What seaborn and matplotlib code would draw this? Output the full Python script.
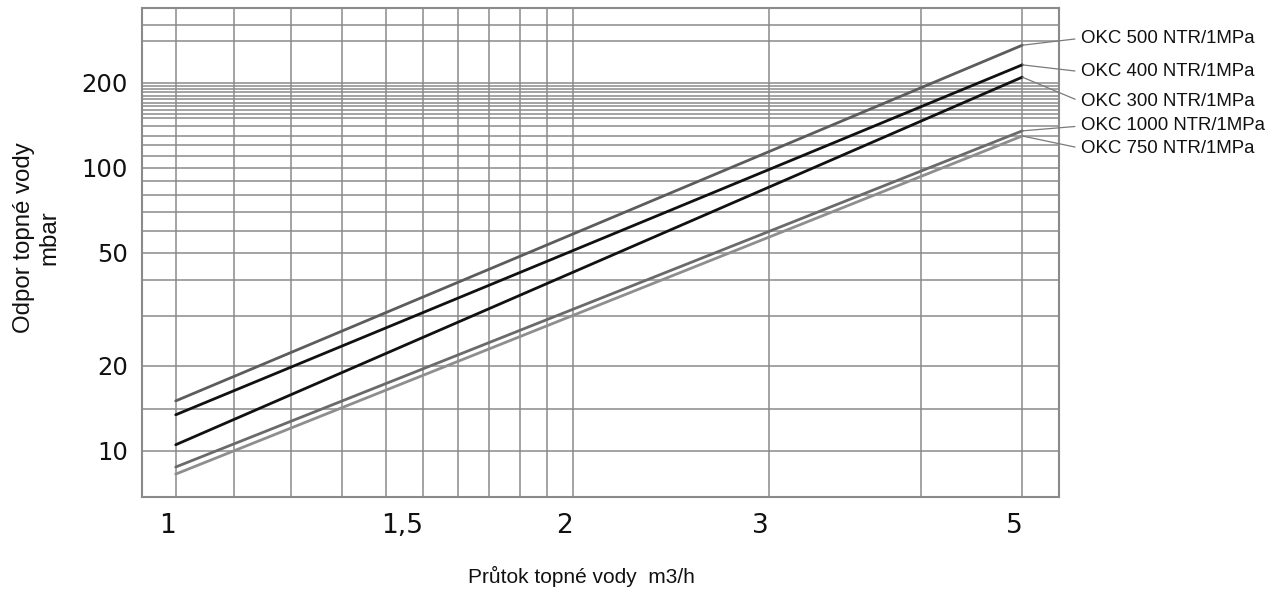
import numpy as np
import pandas as pd
import matplotlib.pyplot as plt
import seaborn as sns
from matplotlib.ticker import FixedLocator, NullFormatter


# pressure drop of heating water vs flow
prutok = [1, 5]
odpor_500 = [15.0, 271]
odpor_400 = [13.4, 231]
odpor_300 = [10.5, 209]
odpor_1000 = [8.76, 135]
odpor_750 = [8.27, 129.5]

typy = ["OKC 500 NTR/1MPa", "OKC 400 NTR/1MPa", "OKC 300 NTR/1MPa",
        "OKC 1000 NTR/1MPa", "OKC 750 NTR/1MPa"]

x_ticks = [1, 1.5, 2, 3, 5]
x_ticklabels = ["1", "1,5", "2", "3", "5"]
x_grid = [1, 1.1, 1.2, 1.3, 1.4, 1.5, 1.6, 1.7, 1.8, 1.9, 2, 3, 4, 5]

y_ticks = [10, 20, 50, 100, 200]
y_grid = [10, 14, 20, 30, 40, 50, 60, 70, 80, 90, 100, 110, 120, 130, 140, 150,
          155, 160, 165, 170, 175, 180, 185, 190, 195, 200, 280, 320]


def main():
    df = pd.DataFrame({
        "Typ": np.repeat(typy, 2),
        "Prutok": prutok * 5,
        "Odpor": odpor_500 + odpor_400 + odpor_300 + odpor_1000 + odpor_750,
    })

    sns.set_theme(style="white")
    plt.rcParams['font.family'] = ['Liberation Sans', 'DejaVu Sans']

    fig = plt.figure(figsize=(12.78, 5.96), dpi=100)
    ax = fig.add_axes([0.1109, 0.1666, 0.7177, 0.8195])

    # the printed x grid is not a clean log scale, so follow the drawn spacing
    knot_val = np.log10([0.95, 1, 1.1, 1.2, 1.3, 1.4, 1.5, 1.6, 1.7, 1.8, 1.9, 2, 3, 4, 5, 5.4])
    knot_pos = np.array([141.7, 175.7, 234, 291, 341.7, 385.7, 423.3, 458.3, 489.3,
                         520, 546.7, 573.3, 769, 920.7, 1022.3, 1059])

    def fwd(v):
        v = np.clip(np.asarray(v, dtype=float), 1e-6, None)
        return np.interp(np.log10(v), knot_val, knot_pos)

    def inv(p):
        return 10 ** np.interp(np.asarray(p, dtype=float), knot_pos, knot_val)

    ax.set_xscale('function', functions=(fwd, inv))
    ax.set_yscale('log')

    farby = {"OKC 500 NTR/1MPa": "#5c5c5c", "OKC 400 NTR/1MPa": "#111111",
             "OKC 300 NTR/1MPa": "#111111", "OKC 1000 NTR/1MPa": "#6a6a6a",
             "OKC 750 NTR/1MPa": "#8e8e8e"}
    sns.lineplot(data=df, x="Prutok", y="Odpor", hue="Typ", hue_order=typy,
                 palette=farby, linewidth=2, legend=False, ax=ax, zorder=3)

    ax.set_xlim(0.95, 5.4)
    ax.set_ylim(6.88, 366)

    ax.set_xticks(x_ticks, labels=x_ticklabels)
    ax.xaxis.set_minor_locator(FixedLocator(x_grid))
    ax.xaxis.set_minor_formatter(NullFormatter())
    ax.set_yticks(y_ticks, labels=[str(t) for t in y_ticks])
    ax.yaxis.set_minor_locator(FixedLocator(y_grid))
    ax.yaxis.set_minor_formatter(NullFormatter())

    ax.tick_params(which='both', length=0)
    ax.tick_params(axis='x', labelsize=19, pad=12, colors='#111111')
    ax.tick_params(axis='y', labelsize=17.5, pad=10, colors='#111111')
    for lab in ax.get_xticklabels():
        lab.set_horizontalalignment('right')
        lab.set_family('DejaVu Sans')
    for lab in ax.get_yticklabels():
        lab.set_family('DejaVu Sans')

    ax.grid(which='both', color='#8a8a8a', linewidth=1.1)
    for sp in ax.spines.values():
        sp.set_color('#8a8a8a')
        sp.set_linewidth(1.5)

    ax.set_xlabel("Průtok topné vody  m3/h", fontsize=15, color='#111111')
    ax.xaxis.set_label_coords(0.479, -0.164)
    ax.xaxis.label.set_verticalalignment('center')
    ax.set_ylabel("Odpor topné vody\nmbar", fontsize=17.3, color='#111111',
                  multialignment='center')
    ax.yaxis.set_label_coords(-0.114, 0.53)
    ax.yaxis.label.set_verticalalignment('center')

    # leader lines from curve ends to the names on the right
    text_y = [0.9386, 0.8702, 0.8088, 0.759, 0.7133]
    konce = [odpor_500[1], odpor_400[1], odpor_300[1], odpor_1000[1], odpor_750[1]]
    for name, yk, ty in zip(typy, konce, text_y):
        ax.annotate(name, xy=(prutok[1], yk), xycoords='data',
                    xytext=(1.024, ty), textcoords='axes fraction',
                    ha='left', va='center', fontsize=13.4, color='#111111',
                    arrowprops=dict(arrowstyle='-', color='#7a7a7a', lw=0.9,
                                    relpos=(0, 0.5), shrinkA=2, shrinkB=0))

    fig.savefig("out.png", dpi=100)


if __name__ == "__main__":
    main()
